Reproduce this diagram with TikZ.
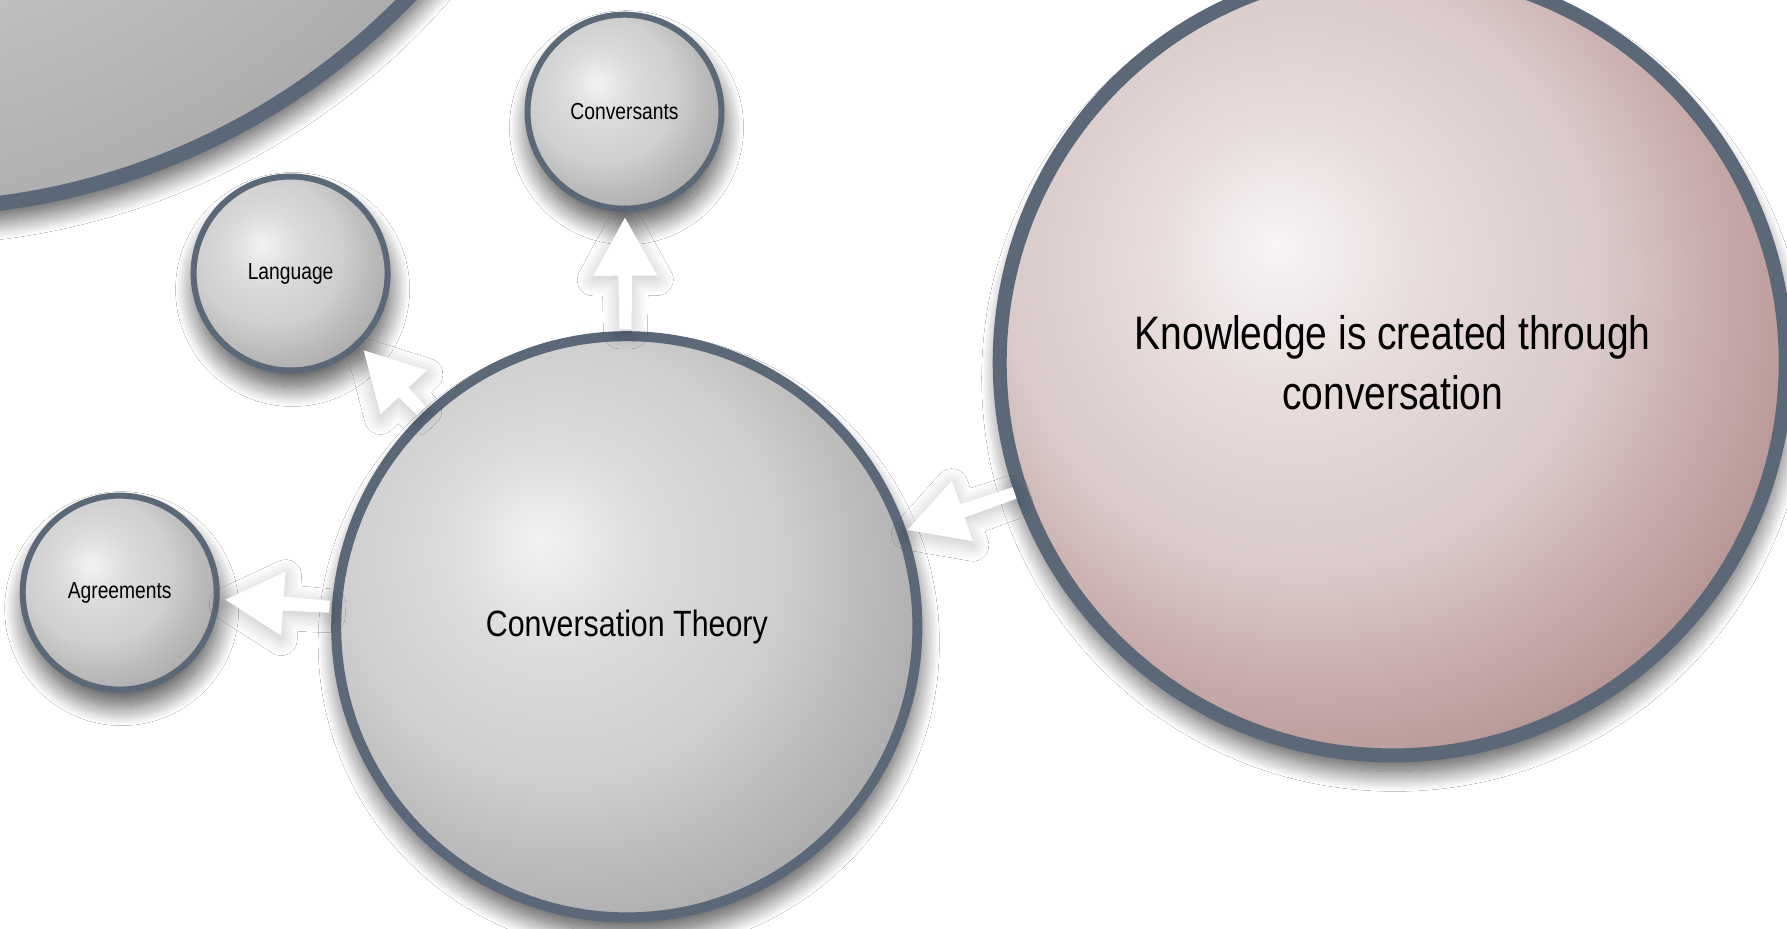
\documentclass[tikz,border=0pt]{standalone}
\usepackage{fontspec}
\setmainfont{Liberation Sans}[FakeStretch=0.83]
\usetikzlibrary{calc,shadows.blur}
\definecolor{rimcol}{HTML}{5A6878}
\pgfdeclareradialshading{graybubble}{\pgfpoint{-7.5bp}{7.5bp}}{color(0bp)=(white!95!black); color(9bp)=(white!86!black); color(19bp)=(white!81!black); color(25bp)=(white!74!black); color(30bp)=(white!69!black); color(33bp)=(white!65!black); color(75bp)=(white!62!black)}
\definecolor{pk0}{HTML}{F8F5F5}
\definecolor{pk1}{HTML}{E7DBDB}
\definecolor{pk2}{HTML}{DACACA}
\definecolor{pk3}{HTML}{C9AEAD}
\definecolor{pk4}{HTML}{BA9B9A}
\definecolor{pk5}{HTML}{AF8B88}
\pgfdeclareradialshading{pinkbubble}{\pgfpoint{-7.5bp}{7.5bp}}{color(0bp)=(pk0); color(9bp)=(pk1); color(19bp)=(pk2); color(25bp)=(pk3); color(30bp)=(pk4); color(33bp)=(pk5); color(75bp)=(pk5)}
\tikzset{
  bubble/.style={circle, draw=rimcol, inner sep=0pt, align=center, shading=graybubble,
    blur shadow={shadow xshift=1pt, shadow yshift=-8pt, shadow blur radius=10pt, shadow blur steps=30, shadow opacity=70}},
  smallbubble/.style={bubble, minimum size=97pt, line width=3pt, font=\fontsize{11.6}{14}\selectfont},
  arrowbody/.style={white, blur shadow={shadow xshift=0pt, shadow yshift=-2pt, shadow blur radius=8pt, shadow blur steps=25, shadow opacity=25}}
}
% fat white arrow from #1 to the tip #2
\newcommand{\fatarrow}[2]{%
  \coordinate (fa-h) at ($(#2)!29pt!(#1)$);
  \fill [arrowbody] ($(#1)!3pt!90:(#2)$) -- ($(fa-h)!3.5pt!90:(#2)$) -- ($(fa-h)!16pt!90:(#2)$)
    -- (#2) -- ($(fa-h)!16pt!-90:(#2)$) -- ($(fa-h)!3.5pt!-90:(#2)$) -- ($(#1)!3pt!-90:(#2)$) -- cycle;
}
\begin{document}
\begin{tikzpicture}[x=0.5pt,y=0.5pt]
\fill [white] (0,0) rectangle (1787,-929);
\useasboundingbox (0,0) rectangle (1787,-929);
% bubbles
\node [bubble, minimum size=693pt, line width=7.5pt] (big) at (-90,484) {};
\node [smallbubble] (conv) at (624.5,-111.7) {Conversants};
\node [smallbubble] (lang) at (290.6,-273.5) {Language};
\node [smallbubble] (agr) at (119.7,-592.6) {Agreements};
\node [bubble, minimum size=290.6pt, line width=5pt, font=\fontsize{18.3}{22}\selectfont] (ct) at (626.8,-626.8) {Conversation Theory};
\node [bubble, shading=pinkbubble, minimum size=393pt, line width=7pt, font=\fontsize{23.5}{30}\selectfont] (know) at (1392.7,-362.4) {Knowledge is created through\\conversation};
% arrows
\coordinate (ct-conv) at ($(ct.center)!149pt!(conv.center)$);
\coordinate (conv-in) at ($(conv.center)!53pt!(ct.center)$);
\fatarrow{ct-conv}{conv-in}
\coordinate (ct-lang) at ($(ct.center)!149pt!(lang.center)$);
\coordinate (lang-in) at ($(lang.center)!53pt!(ct.center)$);
\fatarrow{ct-lang}{lang-in}
\coordinate (ct-agr) at ($(ct.center)!149pt!(agr.center)$);
\coordinate (agr-in) at ($(agr.center)!53pt!(ct.center)$);
\fatarrow{ct-agr}{agr-in}
\coordinate (know-ct) at ($(know.center)!200pt!(ct.center)$);
\coordinate (ct-in) at ($(ct.center)!148.5pt!(know.center)$);
\fatarrow{know-ct}{ct-in}
\end{tikzpicture}
\end{document}
